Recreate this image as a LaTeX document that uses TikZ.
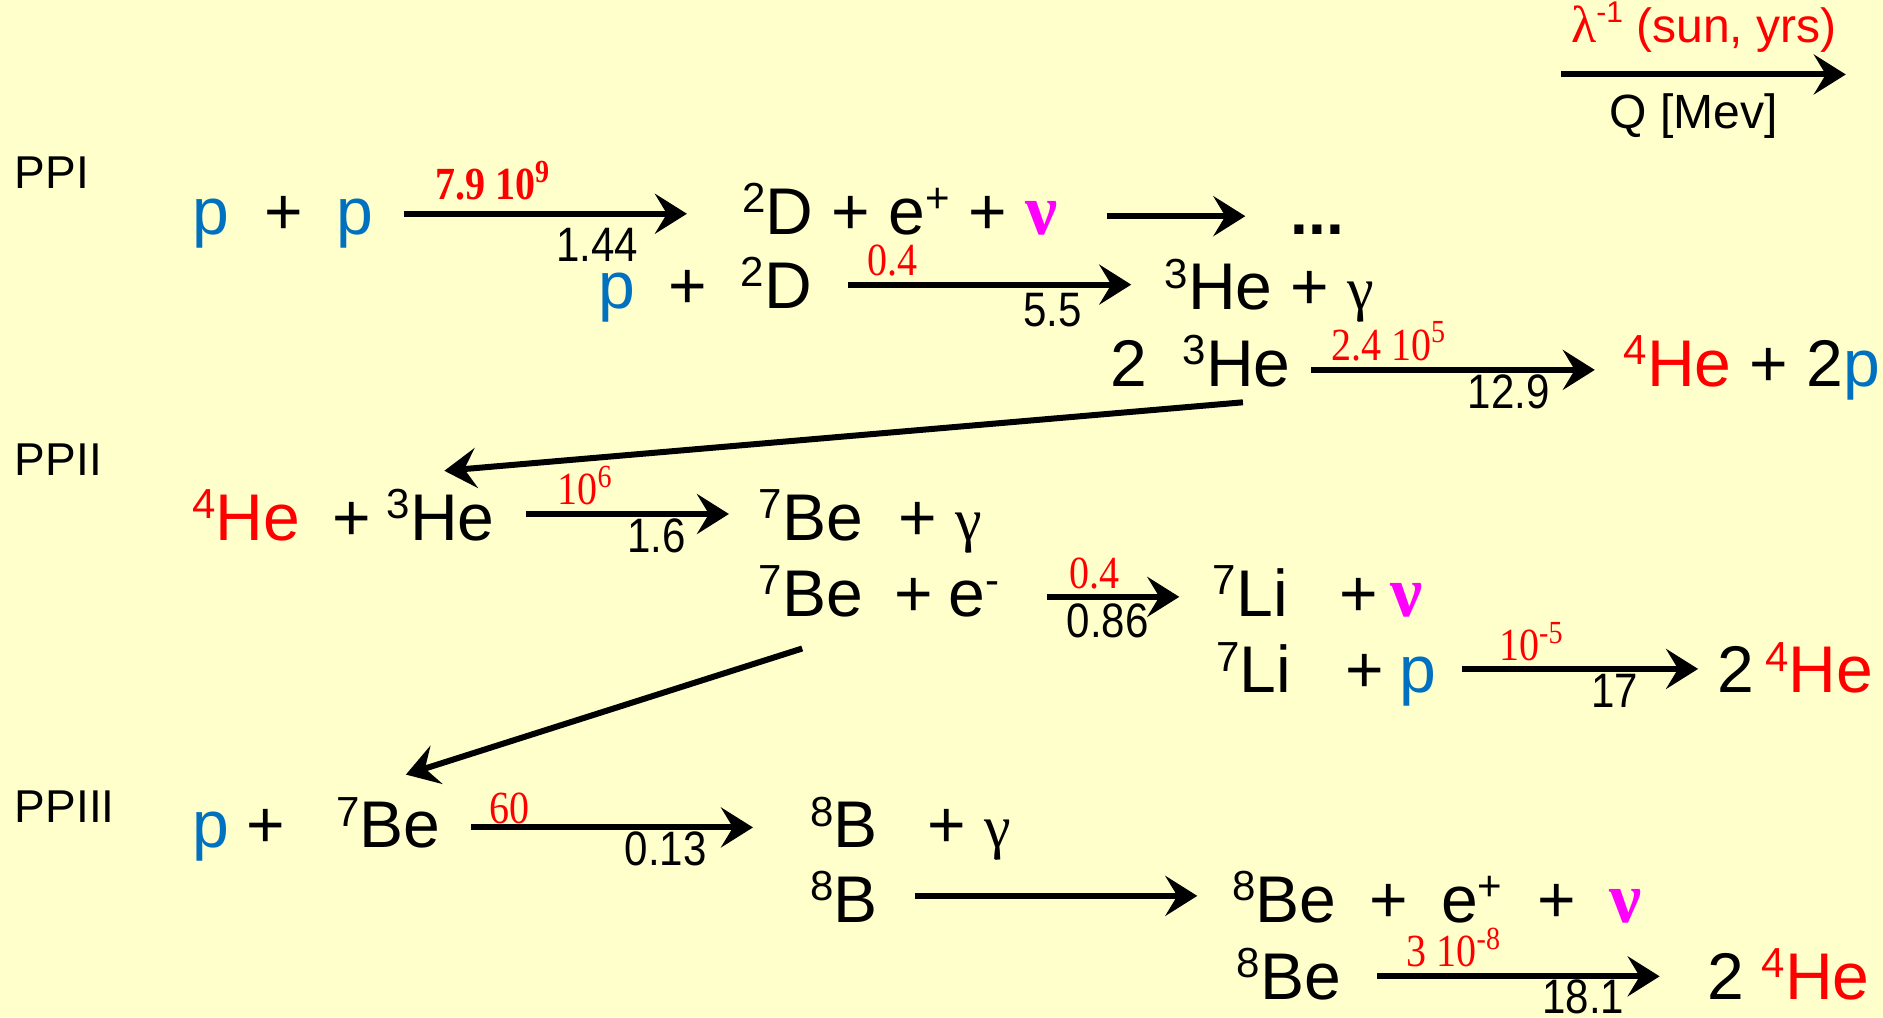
\documentclass[tikz,border=0pt]{standalone}
\usepackage{fontspec}
\setmainfont{Liberation Sans}
\newfontfamily\serif{Liberation Serif}
\usetikzlibrary{arrows.meta}
\definecolor{bg}{RGB}{255,255,204}
\definecolor{pblue}{RGB}{0,112,192}
\definecolor{nured}{RGB}{255,0,0}
\definecolor{numag}{RGB}{255,0,255}
\newcommand\iso[1]{\raisebox{0.33em}{\fontsize{21}{21}\selectfont #1}}
\newcommand\nuglyph{{\serif\bfseries\fontsize{36}{38}\selectfont\color{numag}ν}}
\newcommand\gaglyph{{\serif\fontsize{30}{32}\selectfont γ}}
\newcommand\pblue{\textcolor{pblue}{p}}
\newcommand\tall[1]{\scalebox{1}[1.15]{#1}}
\tikzset{
  t/.style={inner sep=0pt, outer sep=0pt, anchor=base west, font=\fontsize{33}{36}\selectfont},
  lab/.style={inner sep=0pt, anchor=base west, font=\fontsize{23}{26}\selectfont},
  rate/.style={inner sep=0pt, anchor=base west, text=nured, font=\serif\fontsize{20}{22}\selectfont},
  qv/.style={inner sep=0pt, anchor=base west, font=\fontsize{21}{23}\selectfont},
  rx/.style={line width=3pt, -{Stealth[length=16pt,width=20pt,inset=6pt]}},
  leg/.style={inner sep=0pt, anchor=base west, font=\fontsize{24}{26}\selectfont},
}
\begin{document}
\begin{tikzpicture}[x=0.6pt,y=-0.6pt]
\fill[bg] (0,0) rectangle (1568,847);
\useasboundingbox (0,0) rectangle (1568,847);

% legend
\coordinate (ls) at (1300,62); \coordinate (le) at (1537,62);
\draw[rx] (ls) -- (le);
\node[leg,text=nured] (legr) at (1308,35) {{\serif\fontsize{26}{28}\selectfont λ}\raisebox{0.4em}{\fontsize{15}{15}\selectfont -1} (sun, yrs)};
\node[leg] (legq) at (1340,107) {Q [Mev]};

% chain labels
\node[lab] (ppi) at (12,157) {PPI};
\node[lab] (ppii) at (12,396) {PPII};
\node[lab] (ppiii) at (12,685) {PPIII};

% ---------- Row 1
\node[t] (r1a) at (160,195) {\pblue};
\node[t] (r1b) at (220,195) {+};
\node[t] (r1c) at (280,195) {\pblue};
\coordinate (a1s) at (336,178); \coordinate (a1e) at (572,178);
\draw[rx] (a1s) -- (a1e);
\node[rate,font=\serif\bfseries\fontsize{20}{22}\selectfont] (a1r) at (362,166) {\tall{7.9 10\textsuperscript{9}}};
\node[qv] (a1q) at (463,218) {\tall{1.44}};
\node[t] (r1p) at (618,195) {\iso{2}D + e\iso{+} + \nuglyph};
\coordinate (a3s) at (922,180); \coordinate (a3e) at (1037,180);
\draw[rx] (a3s) -- (a3e);
\node[t,font=\bfseries\fontsize{32}{34}\selectfont] (dots) at (1075,195) {...};

% ---------- Row 2
\node[t] (r2a) at (498,257) {\pblue};
\node[t] (r2b) at (557,257) {+};
\node[t] (r2c) at (617,257) {\iso{2}D};
\coordinate (a2s) at (706,237); \coordinate (a2e) at (942,237);
\draw[rx] (a2s) -- (a2e);
\node[rate] (a2r) at (722,229) {\tall{0.4}};
\node[qv] (a2q) at (852,272) {\tall{5.5}};
\node[t] (r2p) at (970,258) {\iso{3}He + \gaglyph};

% ---------- Row 3
\node[t] (r3a) at (925,322) {2};
\node[t] (r3b) at (985,322) {\iso{3}He};
\coordinate (a4s) at (1092,308); \coordinate (a4e) at (1328,308);
\draw[rx] (a4s) -- (a4e);
\node[rate] (a4r) at (1108,300) {\tall{2.4 10\textsuperscript{5}}};
\node[qv] (a4q) at (1222,340) {\tall{12.9}};
\node[t] (r3p) at (1352,322) {\textcolor{nured}{\iso{4}He} + 2\pblue};

% diagonal 1
\coordinate (d1s) at (1035,335); \coordinate (d1e) at (370,392);
\draw[rx] (d1s) -- (d1e);

% ---------- Row 4
\node[t,text=nured] (r4a) at (160,450) {\iso{4}He};
\node[t] (r4b) at (277,450) {+};
\node[t] (r4c) at (322,450) {\iso{3}He};
\coordinate (a5s) at (438,428); \coordinate (a5e) at (607,428);
\draw[rx] (a5s) -- (a5e);
\node[rate] (a5r) at (464,420) {\tall{10\textsuperscript{6}}};
\node[qv] (a5q) at (522,460) {\tall{1.6}};
\node[t] (r4p) at (632,450) {\iso{7}Be};
\node[t] (r4g) at (748,450) {+ \gaglyph};

% ---------- Row 5
\node[t] (r5a) at (632,513) {\iso{7}Be};
\node[t] (r5b) at (745,513) {+};
\node[t] (r5c) at (790,513) {e\iso{-}};
\coordinate (a6s) at (872,497); \coordinate (a6e) at (982,497);
\draw[rx] (a6s) -- (a6e);
\node[rate] (a6r) at (890,490) {\tall{0.4}};
\node[qv] (a6q) at (888,531) {\tall{0.86}};
\node[t] (r5p) at (1010,513) {\iso{7}Li};
\node[t] (r5q) at (1115,513) {+};
\node[t] (r5n) at (1158,513) {\nuglyph};

% ---------- Row 6
\node[t] (r6a) at (1013,577) {\iso{7}Li};
\node[t] (r6b) at (1120,577) {+};
\node[t] (r6c) at (1165,577) {\pblue};
\coordinate (a7s) at (1217,557); \coordinate (a7e) at (1414,557);
\draw[rx] (a7s) -- (a7e);
\node[rate] (a7r) at (1248,550) {\tall{10\textsuperscript{-5}}};
\node[qv] (a7q) at (1325,589) {\tall{17}};
\node[t] (r6p) at (1430,577) {2};
\node[t,text=nured] (r6h) at (1470,577) {\iso{4}He};

% diagonal 2
\coordinate (d2s) at (668,540); \coordinate (d2e) at (338,645);
\draw[rx] (d2s) -- (d2e);

% ---------- Row 7
\node[t] (r7a) at (160,706) {\pblue};
\node[t] (r7b) at (205,706) {+};
\node[t] (r7c) at (280,706) {\iso{7}Be};
\coordinate (a8s) at (392,689); \coordinate (a8e) at (627,689);
\draw[rx] (a8s) -- (a8e);
\node[rate] (a8r) at (407,686) {\tall{60}};
\node[qv] (a8q) at (520,721) {\tall{0.13}};
\node[t] (r7p) at (675,706) {\iso{8}B};
\node[t] (r7g) at (772,706) {+ \gaglyph};

% ---------- Row 8
\node[t] (r8a) at (675,768) {\iso{8}B};
\coordinate (a9s) at (762,746); \coordinate (a9e) at (997,746);
\draw[rx] (a9s) -- (a9e);
\node[t] (r8p) at (1026,768) {\iso{8}Be};
\node[t] (r8b) at (1140,768) {+};
\node[t] (r8c) at (1200,768) {e\iso{+}};
\node[t] (r8d) at (1280,768) {+};
\node[t] (r8n) at (1340,768) {\nuglyph};

% ---------- Row 9
\node[t] (r9a) at (1030,832) {\iso{8}Be};
\coordinate (a10s) at (1147,813); \coordinate (a10e) at (1382,813);
\draw[rx] (a10s) -- (a10e);
\node[rate] (a10r) at (1171,805) {\tall{3 10\textsuperscript{-8}}};
\node[qv] (a10q) at (1284,844) {\tall{18.1}};
\node[t] (r9p) at (1422,832) {2};
\node[t,text=nured] (r9h) at (1467,832) {\iso{4}He};
\end{tikzpicture}
\end{document}
